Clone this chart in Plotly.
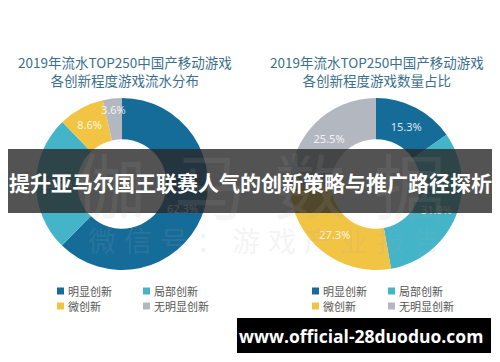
import math
import plotly.graph_objects as go

W, H = 500, 362

categories = ["明显创新", "局部创新", "微创新", "无明显创新"]
colors = ["#156c99", "#44b4c9", "#f2c443", "#b3b8c0"]
revenue_share = [62.3, 25.5, 8.6, 3.6]
count_share = [15.3, 31.9, 27.3, 25.5]

title_left = "2019年流水TOP250中国产移动游戏<br>各创新程度游戏流水分布"
title_right = "2019年流水TOP250中国产移动游戏<br>各创新程度游戏数量占比"
banner_text = "提升亚马尔国王联赛人气的创新策略与推广路径探析"
url_text = "www.official-28duoduo.com"

CJK = "Noto Sans CJK SC"
HOLE = 0.52


def px(x):
    return x / W


def py(y):
    return 1 - y / H


fig = go.Figure()
shapes = []
annotations = []

label_font = dict(family="Noto Sans", size=11, color="rgba(255,255,255,0.85)")

for vals, (x0, x1), (y0, y1) in [(revenue_share, (36, 208), (98, 270)),
                                 (count_share, (290, 462), (98, 270))]:
    texts = [f"{v}%" if v >= 5 else "" for v in vals]
    fig.add_trace(go.Pie(
        labels=categories,
        values=vals,
        text=texts,
        textinfo="text",
        hole=HOLE,
        sort=False,
        direction="clockwise",
        rotation=0,
        marker=dict(colors=colors, line=dict(width=0)),
        textposition="inside",
        insidetextorientation="horizontal",
        textfont=label_font,
        domain=dict(x=[px(x0), px(x1)], y=[py(y1), py(y0)]),
        showlegend=False,
        hoverinfo="label+percent",
    ))
    # labels for slices too thin for the inside text (placed from the data angles)
    total = sum(vals)
    cx, cy, R = (x0 + x1) / 2, (y0 + y1) / 2, (x1 - x0) / 2
    cum = 0
    for v in vals:
        if v < 5:
            mid = 2 * math.pi * (cum + v / 2) / total
            r = 0.87 * R
            annotations.append(dict(
                x=px(cx + r * math.sin(mid)), y=py(cy - r * math.cos(mid)),
                xref="paper", yref="paper", text=f"{v}%", showarrow=False,
                xanchor="center", yanchor="middle", font=label_font,
            ))
        cum += v

# titles
for t, cx in [(title_left, 125), (title_right, 377)]:
    annotations.append(dict(
        x=px(cx), y=py(71), xref="paper", yref="paper", text=t, showarrow=False,
        xanchor="center", yanchor="middle",
        font=dict(family=CJK, size=13.5, color="#3b6f8c"), align="center",
    ))

# watermark
for i, ch in enumerate("伽马数据"):
    annotations.append(dict(
        x=px(110 + i * 100), y=py(182), xref="paper", yref="paper", text=ch,
        showarrow=False, xanchor="center", yanchor="middle",
        font=dict(family=CJK, size=72, color="rgba(170,170,170,0.12)"),
    ))
for i, ch in enumerate("微信号：游戏产业报告"):
    annotations.append(dict(
        x=px(102 + i * 36), y=py(240), xref="paper", yref="paper", text=ch,
        showarrow=False, xanchor="center", yanchor="middle",
        font=dict(family=CJK, size=28, color="rgba(170,170,170,0.15)"),
    ))

# banner
shapes.append(dict(type="rect", xref="paper", yref="paper",
                   x0=px(8), x1=px(492), y0=py(213), y1=py(149),
                   fillcolor="rgba(40,40,40,0.8)", line=dict(width=0), layer="above"))
annotations.append(dict(
    x=px(250), y=py(182), xref="paper", yref="paper", text="<b>" + banner_text + "</b>",
    showarrow=False, xanchor="center", yanchor="middle",
    font=dict(family=CJK, size=21, color="white"),
))

# legends
for lx, step in [(57, 86), (312, 76)]:
    for i, (cat, col) in enumerate(zip(categories, colors)):
        sx = lx + (i % 2) * step
        row_y = 291 + (i // 2) * 15
        shapes.append(dict(type="rect", xref="paper", yref="paper",
                           x0=px(sx), x1=px(sx + 7), y0=py(row_y + 3.5), y1=py(row_y - 3.5),
                           fillcolor=col, line=dict(width=0), layer="above"))
        annotations.append(dict(
            x=px(sx + 9), y=py(row_y), xref="paper", yref="paper", text=cat,
            showarrow=False, xanchor="left", yanchor="middle",
            font=dict(family=CJK, size=11, color="#555555"),
        ))

# url box
shapes.append(dict(type="rect", xref="paper", yref="paper",
                   x0=px(237), x1=px(491), y0=py(353), y1=py(318),
                   fillcolor="black", line=dict(width=0), layer="above"))
annotations.append(dict(
    x=px(361), y=py(335.5), xref="paper", yref="paper", text="<b>" + url_text + "</b>",
    showarrow=False, xanchor="center", yanchor="middle",
    font=dict(family="Open Sans", size=17.5, color="white"),
))

fig.update_layout(
    width=W, height=H,
    margin=dict(l=0, r=0, t=0, b=0),
    paper_bgcolor="white", plot_bgcolor="white",
    shapes=shapes, annotations=annotations,
)

fig.write_html("out.html", config={"displayModeBar": False},
               post_script="document.body.style.margin='0';document.body.style.overflow='hidden';")
